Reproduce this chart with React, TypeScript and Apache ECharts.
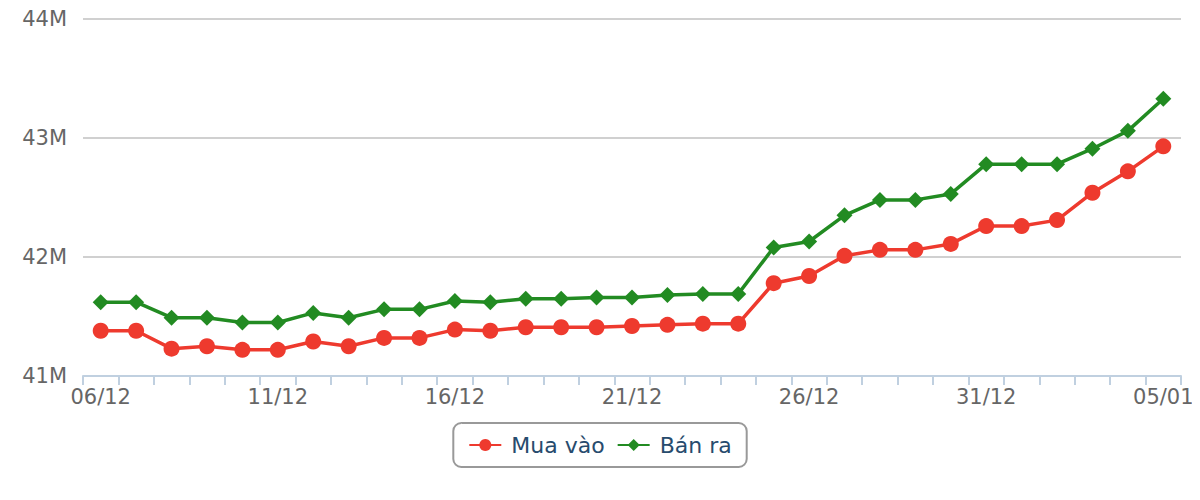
import React, { useEffect, useRef } from "react";
import * as echarts from "echarts";

const categories = [
  "06/12", "07/12", "08/12", "09/12", "10/12", "11/12", "12/12", "13/12", "14/12", "15/12",
  "16/12", "17/12", "18/12", "19/12", "20/12", "21/12", "22/12", "23/12", "24/12", "25/12",
  "26/12", "27/12", "28/12", "29/12", "30/12", "31/12", "01/01", "02/01", "03/01", "04/01", "05/01",
];

// values in VND
const muaVao = [
  41380000, 41380000, 41230000, 41250000, 41220000, 41220000, 41290000, 41250000, 41320000, 41320000,
  41390000, 41380000, 41410000, 41410000, 41410000, 41420000, 41430000, 41440000, 41440000, 41780000,
  41840000, 42010000, 42060000, 42060000, 42110000, 42260000, 42260000, 42310000, 42540000, 42720000,
  42930000,
];

const banRa = [
  41620000, 41620000, 41490000, 41490000, 41450000, 41450000, 41530000, 41490000, 41560000, 41560000,
  41630000, 41620000, 41650000, 41650000, 41660000, 41660000, 41680000, 41690000, 41690000, 42080000,
  42130000, 42350000, 42480000, 42480000, 42530000, 42780000, 42780000, 42780000, 42910000, 43060000,
  43330000,
];

const FONT = "DejaVu Sans";

export default function App() {
  const ref = useRef<HTMLDivElement>(null);
  useEffect(() => {
    if (!ref.current) return;
    const chart = echarts.init(ref.current, undefined, { renderer: "svg" });
    chart.setOption({
      animation: false,
      backgroundColor: "#ffffff",
      grid: { left: 83, right: 19, top: 19, bottom: 124, containLabel: false },
      xAxis: {
        type: "category",
        data: categories,
        boundaryGap: true,
        axisLine: { show: true, lineStyle: { color: "#c0d0e0", width: 2 } },
        axisTick: { show: true, interval: 0, length: 9, lineStyle: { color: "#c0d0e0", width: 2 } },
        axisLabel: {
          interval: 4,
          color: "#666666",
          fontFamily: FONT,
          fontSize: 21,
          margin: 10,
        },
        splitLine: { show: false },
      },
      yAxis: {
        type: "value",
        min: 41000000,
        max: 44000000,
        interval: 1000000,
        axisLine: { show: false },
        axisTick: { show: false },
        axisLabel: {
          color: "#666666",
          fontFamily: FONT,
          fontSize: 21,
          margin: 16,
          formatter: (v: number) => `${v / 1000000}M`,
        },
        splitLine: { show: true, lineStyle: { color: "#c0c0c0", width: 1.5 } },
      },
      legend: {
        left: "center",
        top: 423,
        padding: [11, 15, 11, 15],
        itemGap: 12,
        itemWidth: 32,
        itemHeight: 15,
        borderColor: "#999999",
        borderWidth: 2,
        borderRadius: 8,
        textStyle: {
          color: "#274b6d",
          fontFamily: FONT,
          fontSize: 22,
          padding: [0, 0, 0, 5],
        },
        data: ["Mua vào", "Bán ra"],
      },
      series: [
        {
          name: "Mua vào",
          type: "line",
          data: muaVao,
          symbol: "circle",
          symbolSize: 16,
          showAllSymbol: true,
          color: "#ee3a2e",
          lineStyle: { color: "#ee3a2e", width: 3.5 },
          itemStyle: { color: "#ee3a2e" },
        },
        {
          name: "Bán ra",
          type: "line",
          data: banRa,
          symbol: "diamond",
          symbolSize: 16,
          showAllSymbol: true,
          color: "#228b22",
          lineStyle: { color: "#228b22", width: 3.5 },
          itemStyle: { color: "#228b22" },
        },
      ],
    });
    return () => chart.dispose();
  }, []);
  return <div ref={ref} style={{ width: 1200, height: 500, margin: -8 }} />;
}
